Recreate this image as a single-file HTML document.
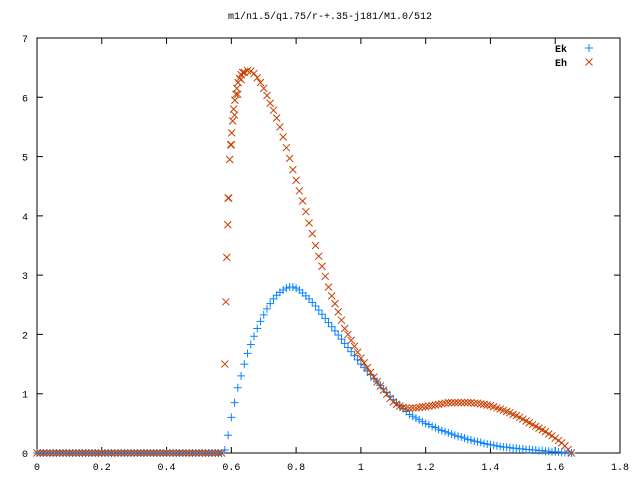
<!DOCTYPE html>
<html><head><meta charset="utf-8"><style>
body{margin:0;background:#fff}
svg text{font-family:"Liberation Mono","DejaVu Sans Mono",monospace;font-size:10px;fill:#000}
</style></head><body>
<svg id="chart" width="640" height="480" xmlns="http://www.w3.org/2000/svg">
<text x="330" y="19" text-anchor="middle">m1/n1.5/q1.75/r-+.35-j181/M1.0/512</text>
<rect x="37" y="38" width="583" height="415" fill="none" stroke="#000" stroke-width="1"/>
<g id="ticks"></g>
<g id="marks"></g>
<g>
<text x="567" y="52" text-anchor="end" font-weight="bold">Ek</text>
<text x="567" y="66" text-anchor="end" font-weight="bold">Eh</text>
</g>
</svg>
<script>
const xTicks=[0,0.2,0.4,0.6,0.8,1,1.2,1.4,1.6,1.8];
const xTickLabels=["0","0.2","0.4","0.6","0.8","1","1.2","1.4","1.6","1.8"];
const yTicks=[0,1,2,3,4,5,6,7];
const yTickLabels=["0","1","2","3","4","5","6","7"];
const zeroStart=0, zeroStep=0.01, zeroCount=57;
const dataStart=0.57, dataStep=0.01;
const ekValues=[0,0.05,0.3,0.6,0.85,1.1,1.3,1.5,1.68,1.83,1.97,2.1,2.22,2.33,2.43,2.52,2.6,2.66,2.71,2.75,2.78,2.8,2.8,2.78,2.75,2.7,2.65,2.6,2.54,2.48,2.41,2.34,2.27,2.2,2.13,2.06,1.99,1.92,1.85,1.78,1.71,1.64,1.57,1.5,1.44,1.38,1.32,1.26,1.2,1.14,1.08,1.02,0.96,0.9,0.85,0.8,0.75,0.7,0.65,0.62,0.59,0.56,0.53,0.5,0.48,0.45,0.43,0.4,0.38,0.36,0.34,0.32,0.3,0.28,0.27,0.25,0.23,0.22,0.2,0.19,0.18,0.16,0.15,0.14,0.13,0.12,0.11,0.1,0.1,0.09,0.08,0.08,0.07,0.07,0.06,0.06,0.05,0.05,0.04,0.04,0.03,0.03,0.02,0.02,0.02,0.01,0.01,0.01,0];
const ehValues=[0,1.5,4.3,5.2,5.7,6.05,6.3,6.42,6.45,6.44,6.4,6.33,6.25,6.15,6.03,5.9,5.78,5.65,5.5,5.33,5.15,4.97,4.78,4.6,4.42,4.25,4.07,3.88,3.7,3.5,3.32,3.15,2.98,2.8,2.65,2.52,2.38,2.24,2.1,2.0,1.9,1.8,1.7,1.6,1.52,1.44,1.36,1.28,1.2,1.13,1.06,0.99,0.92,0.86,0.82,0.79,0.77,0.76,0.75,0.76,0.76,0.77,0.78,0.78,0.79,0.8,0.81,0.82,0.83,0.84,0.85,0.85,0.85,0.85,0.85,0.85,0.85,0.85,0.84,0.84,0.83,0.82,0.81,0.8,0.78,0.76,0.74,0.72,0.7,0.68,0.65,0.63,0.6,0.57,0.54,0.51,0.48,0.45,0.42,0.39,0.36,0.32,0.29,0.25,0.21,0.17,0.12,0.06,0];
const ehRiseX=[0.583,0.586,0.589,0.592,0.595,0.598,0.601,0.604,0.607,0.611,0.614,0.617,0.621,0.625,0.63,0.635];
const ehRiseValues=[2.55,3.3,3.85,4.3,4.95,5.2,5.4,5.6,5.8,5.95,6.05,6.15,6.25,6.32,6.38,6.42];

const X0=37,X1=620,Y0=453,Y1=38;
const sx=v=>X0+(v-0)/(1.8-0)*(X1-X0);
const sy=v=>Y0-(v-0)/(7-0)*(Y0-Y1);
const NS="http://www.w3.org/2000/svg";
function mk(tag,attrs,parent){const e=document.createElementNS(NS,tag);for(const k in attrs)e.setAttribute(k,attrs[k]);parent.appendChild(e);return e;}
const tg=document.getElementById('ticks'), mg=document.getElementById('marks');
xTicks.forEach((t,i)=>{const x=sx(t);
 const a=mk('path',{d:`M${x} ${Y0}v-6M${x} ${Y1}v6`,stroke:'#000'},tg);
 
 
 const l=mk('text',{x:x,y:470,'text-anchor':'middle'},tg);l.textContent=xTickLabels[i];
 
 });
yTicks.forEach((t,i)=>{const y=sy(t);
 const a=mk('path',{d:`M${X0} ${y}h6M${X1} ${y}h-6`,stroke:'#000'},tg);
 
 
 const l=mk('text',{x:28,y:y+4,'text-anchor':'end'},tg);l.textContent=yTickLabels[i];
 
 });
const BLUE='#0a84ff', ORANGE='#c84000';
function plus(x,y,name){const p=mk('path',{d:`M${x-4} ${y}h8M${x} ${y-4}v8`,stroke:BLUE,'stroke-width':1,fill:'none'},mg);
 
 }
function cross(x,y,name){const p=mk('path',{d:`M${x-3.5} ${y-3.5}l7 7M${x-3.5} ${y+3.5}l7 -7`,stroke:ORANGE,'stroke-width':1,fill:'none'},mg);
 
 }
for(let i=0;i<zeroCount;i++){const x=sx(zeroStart+i*zeroStep);plus(x,sy(0),'ek-point');cross(x,sy(0),'eh-point');}
ekValues.forEach((v,i)=>plus(sx(dataStart+i*dataStep),sy(v),'ek-point'));
ehValues.forEach((v,i)=>cross(sx(dataStart+i*dataStep),sy(v),'eh-point'));
ehRiseValues.forEach((v,i)=>cross(sx(ehRiseX[i]),sy(v),'eh-point'));
plus(589,48,'legend-marker-ek');
cross(589,62,'legend-marker-eh');
</script>
</body></html>
